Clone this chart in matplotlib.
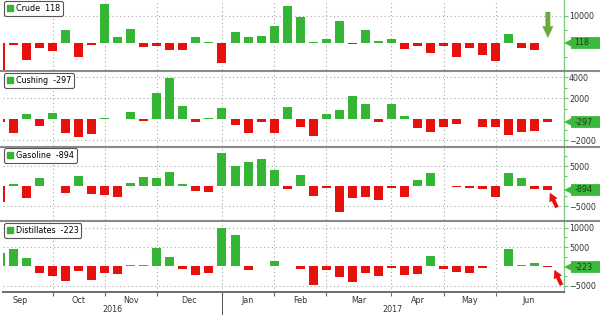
import matplotlib.pyplot as plt
from matplotlib.patches import Patch
from matplotlib.lines import Line2D
import matplotlib.transforms as mtransforms
import numpy as np

plt.rcParams['font.family'] = ['DejaVu Sans']

# weekly inventory changes (thousand barrels), EIA reports Sep 7 2016 .. Jun 28 2017
crude = [-14500, -560, -6200, -1900, -3000, 4900, -5200, -550, 14400, 2400,
         5300, -1300, -880, -2400, -2600, 2300, 610, -7100, 4100, 2300,
         2800, 6500, 13800, 9500, 560, 1500, 8200, -240, 4950, 870,
         1600, -2200, -1000, -3600, -930, -5200, -1800, -4400, -6400, 3300,
         -1700, -2450, 118]
cushing = [-300, -1270, 540, -630, 600, -1330, -1710, -1400, 80, 60,
           700, -130, 2480, 3900, 1270, -300, 160, 1050, -570, -1330,
           -290, -1270, 1170, -760, -1590, 480, 890, 2200, 1500, -220,
           1430, 320, -800, -1200, -760, -480, 60, -760, -760, -1500,
           -1240, -1100, -297]
gasoline = [-4000, 600, -3000, 2100, 200, -1600, 2500, -1800, -2100, -2750,
            800, 2400, 2200, 3500, 500, -1100, -1300, 8400, 5000, 6100,
            6800, 4000, -750, 2800, -2400, -400, -6300, -2800, -2600, -3500,
            -400, -2750, 1700, 3400, 150, -150, -300, -600, -2750, 3300,
            2100, -600, -894]
distillates = [3400, 4500, 2200, -1800, -2400, -3800, -1200, -3400, -1800, -2000,
               300, 300, 4900, 2400, -700, -2300, -1700, 10000, 8200, -900,
               150, 1500, 150, -700, -4800, -950, -2600, -4100, -1700, -2400,
               -500, -2100, -1900, 2700, -600, -1500, -1700, -300, 250, 4400,
               400, 900, -223]

names = ['Crude', 'Cushing', 'Gasoline', 'Distillates']
last_labels = ['118', '-297', '-894', '-223']
ylims = [(-9800, 15850), (-2540, 4500), (-8425, 9825), (-6580, 11480)]
yticks = [[10000], [4000, 2000, -2000], [5000, -5000], [10000, 5000, -5000]]
yminor = [[5000, -5000], [3000, 1000, -1000], [2500, -2500, 7500], [7500, 2500, -2500]]

# x axis: week index; first week of each month
month_names = ['Sep', 'Oct', 'Nov', 'Dec', 'Jan', 'Feb', 'Mar', 'Apr', 'May', 'Jun']
month_starts = [4, 8, 12, 17, 21, 25, 30, 34, 38]
years = ['2016', '2017']
year_break = 17
xlim = (0.2, 43.2)

green = '#34b534'
red = '#e8100c'
tag_green = '#3cb83c'
grid_c = '#a6a6a6'

# panel pixel extents (top, bottom) in a 316 px tall figure
panels_px = [(0, 70), (72, 146), (147, 220), (222, 292)]
H = 316.0
W = 600.0

fig = plt.figure(figsize=(6, 3.16), dpi=100)
series = [crude, cushing, gasoline, distillates]
x = np.arange(len(crude))

axes = []
for k, (vals, (t, b)) in enumerate(zip(series, panels_px)):
    ax = fig.add_axes([3 / W, 1 - b / H, (563.5 - 3) / W, (b - t) / H])
    axes.append(ax)
    vals = np.array(vals)
    colors = [green if v >= 0 else red for v in vals]
    ax.bar(x, vals, width=0.69, color=colors, zorder=3)
    ax.set_xlim(*xlim)
    ax.set_ylim(*ylims[k])

    # grid
    for m in month_starts:
        ax.axvline(m, color=grid_c, lw=0.8, ls=(0, (1, 2.5)), zorder=1)
    for yt in yticks[k]:
        ax.axhline(yt, color=grid_c, lw=0.8, ls=(0, (1, 2.5)), zorder=1)

    # right axis
    ax.yaxis.tick_right()
    ax.set_yticks(yticks[k])
    ax.set_yticks(yminor[k], minor=True)
    ax.tick_params(axis='y', which='major', length=3, width=0.8, color='#6cc26c',
                   labelsize=5.8, labelcolor='#333333', pad=1)
    ax.tick_params(axis='y', which='minor', length=2, width=0.8, color='#6cc26c')
    for s in ['top', 'left', 'bottom']:
        ax.spines[s].set_visible(False)
    ax.spines['right'].set_color('#7cc87c')
    ax.spines['right'].set_linewidth(0.9)

    # legend box
    leg = ax.legend(handles=[Patch(color=green)], labels=[f'{names[k]}  {last_labels[k]}'],
                    loc='upper left', bbox_to_anchor=(0.0, 1.0), borderaxespad=0.15,
                    fontsize=5.8, handlelength=0.7, handleheight=0.7, handletextpad=0.4,
                    borderpad=0.35, fancybox=True, framealpha=1, edgecolor='#555555')
    leg.get_frame().set_linewidth(0.8)

    # last value tag on the right axis
    tr = mtransforms.blended_transform_factory(ax.transAxes, ax.transData)
    ax.plot([1.014, 1.1], [vals[-1], vals[-1]], color=tag_green, lw=8.5,
            solid_capstyle='butt', transform=tr, clip_on=False, zorder=5)
    ax.plot([1.012], [vals[-1]], marker='<', ms=8.5, color=tag_green, transform=tr,
            clip_on=False, zorder=5, mew=0)
    ax.text(1.019, vals[-1], last_labels[k], transform=tr, ha='left',
            va='center', fontsize=5.8, color='#173d17', clip_on=False, zorder=6)

    if k < 3:
        ax.set_xticks([])
    else:
        ax.spines['bottom'].set_visible(True)
        ax.spines['bottom'].set_color('#6e6e6e')
        ax.spines['bottom'].set_linewidth(1.4)
        ax.set_xticks(month_starts)
        ax.set_xticklabels([])
        mids = [(a + b2) / 2 for a, b2 in zip([-1] + month_starts, month_starts + [43])]
        ax.set_xticks(mids, minor=True)
        ax.set_xticklabels(month_names, minor=True)
        ax.tick_params(axis='x', which='major', length=3, width=0.8, color='#6e6e6e')
        ax.tick_params(axis='x', which='minor', length=0, labelsize=5.8,
                       labelcolor='#333333', pad=3)
        trx = mtransforms.blended_transform_factory(ax.transData, ax.transAxes)
        ax.plot([year_break, year_break], [0, -0.32], color='#555555', lw=0.7,
                transform=trx, clip_on=False)
        ax.text((xlim[0] + year_break) / 2, -0.25, years[0], transform=trx,
                ha='center', va='center', fontsize=5.8, color='#333333')
        ax.text((year_break + xlim[1]) / 2, -0.25, years[1], transform=trx,
                ha='center', va='center', fontsize=5.8, color='#333333')

# separators between panels
for y in [71, 146.5, 221]:
    fig.add_artist(Line2D([0, 1], [1 - y / H, 1 - y / H], transform=fig.transFigure,
                          color='#8a8a8a', lw=1.5))

# highlight arrows
axes[0].annotate('', xy=(42, 1900), xytext=(42, 11500),
                 arrowprops=dict(arrowstyle='simple,head_width=0.8,head_length=0.85,tail_width=0.35',
                                 color='#6aab3a', lw=0, shrinkA=0, shrinkB=0,
                                 mutation_scale=10))
axes[2].annotate('', xy=(42.15, -1600), xytext=(42.7, -5300),
                 arrowprops=dict(arrowstyle='simple,head_width=0.65,head_length=0.6,tail_width=0.28',
                                 color=red, lw=0, shrinkA=0, shrinkB=0, mutation_scale=10))
axes[3].annotate('', xy=(42.5, -850), xytext=(43.05, -4800),
                 arrowprops=dict(arrowstyle='simple,head_width=0.65,head_length=0.6,tail_width=0.28',
                                 color=red, lw=0, shrinkA=0, shrinkB=0, mutation_scale=10))

fig.savefig('out.png', dpi=100)
